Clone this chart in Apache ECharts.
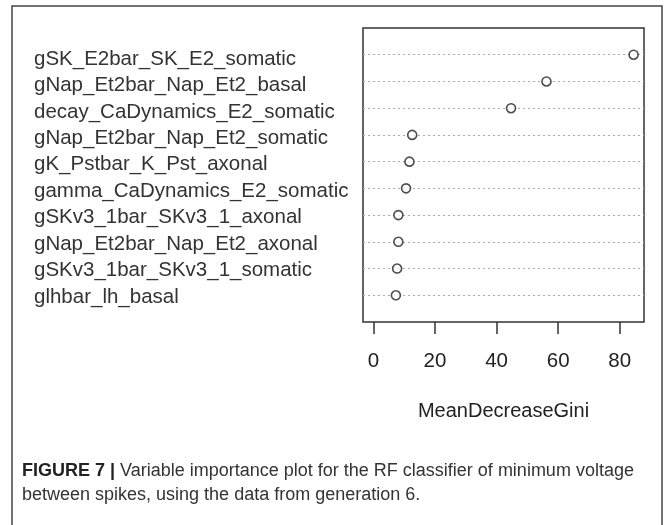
<!DOCTYPE html>
<html>
<head>
<meta charset="utf-8">
<script src="https://cdn.jsdelivr.net/npm/echarts@6/dist/echarts.min.js"></script>
<style>html,body{margin:0;padding:0;background:#fff;}#c{width:670px;height:525px;}</style>
</head>
<body>
<div id="c"></div>
<script>
const categories = [
  'gSK_E2bar_SK_E2_somatic',
  'gNap_Et2bar_Nap_Et2_basal',
  'decay_CaDynamics_E2_somatic',
  'gNap_Et2bar_Nap_Et2_somatic',
  'gK_Pstbar_K_Pst_axonal',
  'gamma_CaDynamics_E2_somatic',
  'gSKv3_1bar_SKv3_1_axonal',
  'gNap_Et2bar_Nap_Et2_axonal',
  'gSKv3_1bar_SKv3_1_somatic',
  'glhbar_lh_basal'
];
const values = [84.5, 56.2, 44.7, 12.6, 11.7, 10.6, 8.1, 8.1, 7.7, 7.3];
const tickValues = [0, 20, 40, 60, 80];
const axisName = 'MeanDecreaseGini';
const captionBold = 'FIGURE 7 |';
const captionLine1 = ' Variable importance plot for the RF classifier of minimum voltage';
const captionLine2 = 'between spikes, using the data from generation 6.';

const n = categories.length;
const maxV = Math.max.apply(null, values);
const pad = 0.04 * maxV;

const chart = echarts.init(document.getElementById('c'), null, {renderer: 'canvas'});
chart.setOption({
  animation: false,
  backgroundColor: '#fff',
  textStyle: {fontFamily: 'Liberation Sans, Arial, sans-serif'},
  grid: [
    {left: 363, right: 26, top: 28, height: 294, show: true, borderColor: '#333', borderWidth: 1.5, backgroundColor: 'transparent'},
    {left: 33, width: 1, top: 45.8, height: 264.4, show: false}
  ],
  xAxis: [
    {
      gridIndex: 0, type: 'value', min: -pad, max: maxV + pad,
      axisLine: {show: false},
      axisTick: {show: true, length: 12, customValues: tickValues, lineStyle: {color: '#333', width: 1.5}},
      axisLabel: {customValues: tickValues, fontSize: 20.5, color: '#222', margin: 29},
      splitLine: {show: false},
      name: axisName, nameLocation: 'middle', nameGap: 79,
      nameTextStyle: {fontSize: 20, color: '#222'}
    },
    {gridIndex: 1, type: 'value', show: false}
  ],
  yAxis: [
    {
      gridIndex: 0, type: 'value', min: 0, max: n + 1, interval: 1,
      axisLine: {show: false}, axisTick: {show: false}, axisLabel: {show: false},
      splitLine: {show: true, showMinLine: false, showMaxLine: false, lineStyle: {color: '#aaa', type: [2, 3], width: 1}}
    },
    {
      gridIndex: 1, type: 'category', data: categories, inverse: true, position: 'right',
      axisLine: {show: false}, axisTick: {show: false}, splitLine: {show: false},
      axisLabel: {interval: 0, margin: 0, fontSize: 20.5, color: '#333', align: 'left'}
    }
  ],
  series: [{
    type: 'scatter', xAxisIndex: 0, yAxisIndex: 0,
    symbol: 'circle', symbolSize: 9,
    itemStyle: {color: '#fff', borderColor: '#222', borderWidth: 1.6},
    data: values.map((v, i) => [v, n - i])
  }],
  graphic: [
    {type: 'rect', shape: {x: 12, y: 6, width: 650, height: 540}, style: {fill: 'none', stroke: '#444', lineWidth: 1.5}, silent: true},
    {type: 'text', left: 22, top: 462, style: {
      text: '{b|' + captionBold + '}{r|' + captionLine1 + '}\n{r|' + captionLine2 + '}',
      rich: {
        b: {fontSize: 18, fontWeight: 'bold', fill: '#222', lineHeight: 24, fontFamily: 'Liberation Sans'},
        r: {fontSize: 18, fill: '#333', lineHeight: 24, fontFamily: 'Liberation Sans'}
      }
    }}
  ]
});
</script>
</body>
</html>
